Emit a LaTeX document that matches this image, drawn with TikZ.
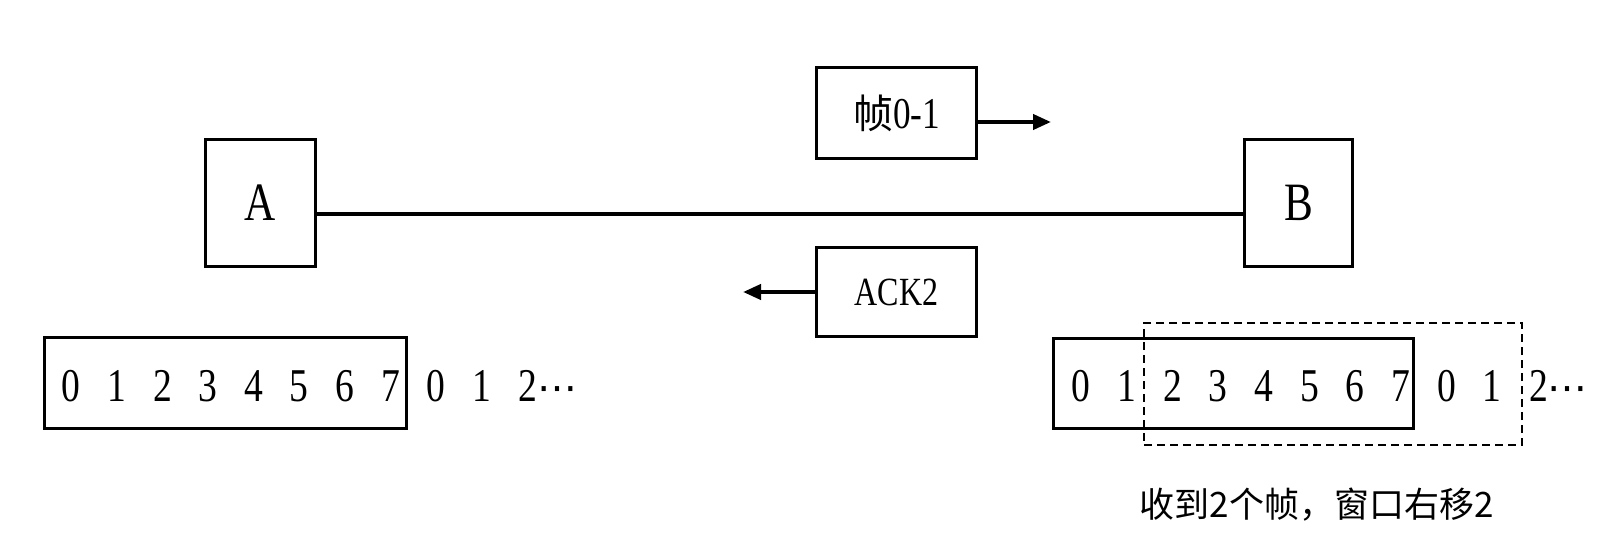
\documentclass[tikz,border=0pt]{standalone}
\usepackage{fontspec}
\setmainfont{Liberation Serif}[FakeStretch=0.8]
\newfontfamily\cjk{Noto Sans CJK SC}
\newfontfamily\dotsfont{DejaVu Sans}
\usetikzlibrary{arrows.meta}
\begin{document}
\begin{tikzpicture}[x=1pt,y=-1pt,
  box/.style={draw, line width=3pt, inner sep=0pt},
  arr/.style={line width=4pt, -{Triangle[length=18pt,width=15pt]}},
  dig/.style={anchor=base, inner sep=0pt, font=\fontsize{47}{50}\selectfont},
  ell/.style={anchor=base west, inner sep=0pt, font=\fontsize{47}{50}\selectfont}]
\useasboundingbox (0,0) rectangle (1597,548);
% stations
\node[box, minimum width=110pt, minimum height=127pt, font=\fontsize{54}{56}\selectfont] (A) at (260.5,203) {A};
\node[box, minimum width=108pt, minimum height=127pt, font=\fontsize{54}{56}\selectfont] (B) at (1298.5,203) {B};
\coordinate (ln) at (0,214);
\draw[line width=4pt] (A.east |- ln) -- (B.west |- ln);
% frame and ack
\node[box, minimum width=160pt, minimum height=91pt, font=\fontsize{40}{44}\selectfont] (fr) at (896.5,113) {{\cjk 帧}{\fontsize{44}{46}\selectfont 0-1}};
\node[box, minimum width=160pt, minimum height=89pt, font=\fontsize{40}{44}\selectfont] (ack) at (896.5,292) {ACK2};
\coordinate (fa) at (1051,122);
\draw[arr] (fr.east |- fa) -- (fa);
\coordinate (aa) at (743,292);
\draw[arr] (ack.west) -- (aa);
% sender window
\node[box, minimum width=362pt, minimum height=91pt] (wl) at (225.5,383) {};
\foreach \d [count=\i from 0] in {0,1,2,3,4,5,6,7,0,1}
  \node[dig] (l\i) at ({71.3+45.6*\i},401) {\d};
\node[ell] (l10) at (518.5,401) {2{\dotsfont\fontsize{40}{44}\selectfont ⋯}};
% receiver window
\node[box, minimum width=360pt, minimum height=90pt] (wr) at (1233.5,383.5) {};
\node[draw, dashed, dash pattern=on 8pt off 5pt, line width=1.5pt, inner sep=0pt,
      minimum width=378pt, minimum height=122pt] (wd) at (1333,384) {};
\foreach \d [count=\i from 0] in {0,1,2,3,4,5,6,7,0,1}
  \node[dig] (r\i) at ({1081+45.7*\i},401) {\d};
\node[ell] (r10) at (1528.8,401) {2{\dotsfont\fontsize{40}{44}\selectfont ⋯}};
% caption
\node[inner sep=0pt, font=\cjk\fontsize{35}{40}\selectfont] (cap) at (1316.5,505) {收到2个帧，窗口右移2};
\end{tikzpicture}
\end{document}
